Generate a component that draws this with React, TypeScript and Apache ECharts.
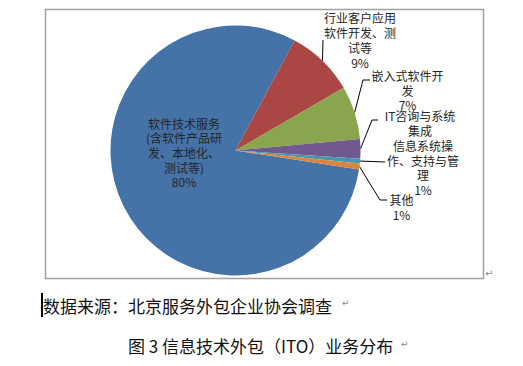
import React, { useEffect, useRef } from "react";
import * as echarts from "echarts";

const categories = [
  "软件技术服务(含软件产品研发、本地化、测试等)",
  "行业客户应用软件开发、测试等",
  "嵌入式软件开发",
  "IT咨询与系统集成",
  "信息系统操作、支持与管理",
  "其他",
];
const labelTexts = [
  "软件技术服务\n(含软件产品研\n发、本地化、\n测试等)",
  "行业客户应用\n软件开发、测\n试等",
  "嵌入式软件开\n发",
  "IT咨询与系统\n集成",
  "信息系统操\n作、支持与管\n理",
  "其他",
];
const values = [80.4, 8.8, 6.9, 2.5, 0.6, 0.8];
const showPercent = [true, true, true, false, true, true];
const colors = ["#4572A7", "#AA4643", "#89A54E", "#71588F", "#4198AF", "#DB843D"];

const sourceText = "数据来源：北京服务外包企业协会调查";
const captionText = "图 3 信息技术外包（ITO）业务分布";

// label anchor positions (layout only)
const labelPos = [
  [184, 152.5],
  [360, 40],
  [407.5, 90],
  [420, 123],
  [423, 167.5],
  [401.5, 207],
];
// leader-line bend and end points (layout only)
const leaderBends = [
  null,
  [[323, 40], [323, 40]],
  [[363, 80], [370, 80]],
  [[372, 120], [378, 120]],
  [[385, 162], [385, 162]],
  [[380, 200], [387, 200]],
];

const FONT = "'Noto Sans CJK SC', 'Noto Sans', sans-serif";

export default function App() {
  const ref = useRef<HTMLDivElement>(null);
  useEffect(() => {
    const chart = echarts.init(ref.current!, null, { renderer: "svg" });
    const total = values.reduce((a, b) => a + b, 0);
    chart.setOption({
      animation: false,
      backgroundColor: "#fff",
      graphic: [
        {
          type: "rect",
          shape: { x: 45.5, y: 9.5, width: 438, height: 269 },
          style: { fill: "none", stroke: "#A0A0A0", lineWidth: 1.5 },
          silent: true,
        },
        {
          type: "text",
          x: 485,
          y: 268,
          style: { text: "↵", fontSize: 10, fill: "#888", fontFamily: "DejaVu Sans" },
        },
        {
          type: "line",
          shape: { x1: 42, y1: 293, x2: 42, y2: 317 },
          style: { stroke: "#000", lineWidth: 2 },
        },
        {
          type: "text",
          x: 43,
          y: 305,
          style: {
            text: sourceText,
            fontSize: 17,
            fill: "#111",
            fontFamily: FONT,
            verticalAlign: "middle",
          },
        },
        {
          type: "text",
          x: 342,
          y: 303,
          style: { text: "↵", fontSize: 9, fill: "#888", fontFamily: "DejaVu Sans", verticalAlign: "middle" },
        },
        {
          type: "text",
          x: 128,
          y: 345,
          style: {
            text: captionText,
            fontSize: 17,
            fill: "#111",
            fontFamily: FONT,
            verticalAlign: "middle",
          },
        },
        {
          type: "text",
          x: 401,
          y: 344,
          style: { text: "↵", fontSize: 9, fill: "#888", fontFamily: "DejaVu Sans", verticalAlign: "middle" },
        },
      ],
      series: [
        {
          type: "pie",
          center: [235.5, 150.5],
          radius: 125,
          startAngle: -8.8,
          clockwise: true,
          avoidLabelOverlap: false,
          color: colors,
          itemStyle: { borderWidth: 0 },
          label: {
            show: true,
            position: "outside",
            fontSize: 12,
            lineHeight: 14.7,
            color: "#262626",
            fontFamily: FONT,
            align: "center",
            formatter: (p: any) => {
              const i = p.dataIndex;
              const pct = Math.round((values[i] / total) * 100);
              return showPercent[i] ? `${labelTexts[i]}\n${pct}%` : labelTexts[i];
            },
          },
          labelLine: {
            show: true,
            lineStyle: { color: "#000", width: 1 },
          },
          labelLayout: (p: any) => {
            const i = p.dataIndex;
            const out: any = {
              x: labelPos[i][0],
              y: labelPos[i][1],
              align: "center",
              verticalAlign: "middle",
            };
            const b = leaderBends[i];
            if (b && p.labelLinePoints) {
              out.labelLinePoints = [p.labelLinePoints[0], b[0], b[1]];
            }
            return out;
          },
          data: categories.map((name, i) => ({
            name,
            value: values[i],
            labelLine: { show: i !== 0 },
          })),
        },
      ],
    });
    return () => chart.dispose();
  }, []);
  return (
    <div
      ref={ref}
      style={{ position: "absolute", left: 0, top: 0, width: 523, height: 366 }}
    />
  );
}
